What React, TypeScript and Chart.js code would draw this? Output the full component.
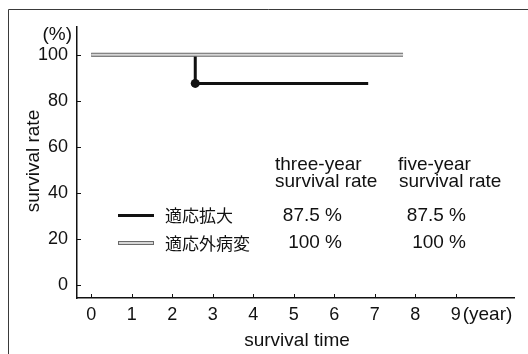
import React, { useEffect, useRef } from "react";
import { Chart, registerables } from "chart.js";

Chart.register(...registerables);

// ---- data ----
const expandedTimes = [0, 2.57, 2.57, 6.84];
const expandedRates = [100, 100, 87.5, 87.5];
const outsideTimes = [0, 7.7];
const outsideRates = [100, 100];
const xTickValues = [0, 1, 2, 3, 4, 5, 6, 7, 8, 9];
const yTickValues = [0, 20, 40, 60, 80, 100];
const seriesNames = ["適応拡大", "適応外病変"];
const columnHeaders = [
  ["three-year", "survival rate"],
  ["five-year", "survival rate"],
];
const threeYearRates = ["87.5 %", "100 %"];
const fiveYearRates = ["87.5 %", "100 %"];

const FONT = "'Liberation Sans', Arial, Helvetica, sans-serif";
const CJK = "'Noto Sans CJK JP', 'Liberation Sans', sans-serif";
const INK = "#111111";
const GRAY_EDGE = "#6a6a6a";
const GRAY_FILL = "#d6d6d6";

const overlayPlugin = {
  id: "overlay",
  beforeDraw(chart: any) {
    const ctx = chart.ctx;
    ctx.save();
    ctx.strokeStyle = "#3a3a3a";
    ctx.lineWidth = 1;
    ctx.beginPath();
    ctx.moveTo(8.5, 354);
    ctx.lineTo(8.5, 9.5);
    ctx.lineTo(528, 9.5);
    ctx.stroke();
    ctx.restore();
  },
  afterDraw(chart: any) {
    const ctx = chart.ctx;
    const xs = chart.scales.x;
    const ys = chart.scales.y;
    const area = chart.chartArea;
    ctx.save();
    // inward tick marks
    ctx.strokeStyle = INK;
    ctx.lineWidth = 1;
    xTickValues.forEach((v) => {
      const px = Math.round(xs.getPixelForValue(v)) + 0.5;
      ctx.beginPath();
      ctx.moveTo(px, area.bottom);
      ctx.lineTo(px, area.bottom - 4);
      ctx.stroke();
    });
    yTickValues.forEach((v) => {
      const py = Math.round(ys.getPixelForValue(v)) + 0.5;
      ctx.beginPath();
      ctx.moveTo(area.left, py);
      ctx.lineTo(area.left + 4, py);
      ctx.stroke();
    });

    ctx.fillStyle = INK;
    ctx.textBaseline = "alphabetic";
    ctx.font = `19px ${FONT}`;
    // units
    ctx.textAlign = "right";
    ctx.fillText("(%)", 72, 40);
    ctx.textAlign = "left";
    ctx.fillText("(year)", xs.getPixelForValue(9) + 7, 320);
    // axis titles
    ctx.textAlign = "center";
    ctx.fillText("survival time", 297, 346);
    ctx.save();
    ctx.translate(39, 161);
    ctx.rotate(-Math.PI / 2);
    ctx.fillText("survival rate", 0, 0);
    ctx.restore();

    // column headers
    ctx.textAlign = "left";
    ctx.fillText(columnHeaders[0][0], 275, 170);
    ctx.fillText(columnHeaders[0][1], 275, 187);
    ctx.fillText(columnHeaders[1][0], 398, 170);
    ctx.fillText(columnHeaders[1][1], 399, 187);

    // values
    ctx.textAlign = "right";
    ctx.fillText(threeYearRates[0], 342, 221);
    ctx.fillText(threeYearRates[1], 342, 248);
    ctx.fillText(fiveYearRates[0], 466, 221);
    ctx.fillText(fiveYearRates[1], 466, 248);

    // legend
    ctx.strokeStyle = INK;
    ctx.lineWidth = 3;
    ctx.beginPath();
    ctx.moveTo(118, 215.5);
    ctx.lineTo(154, 215.5);
    ctx.stroke();
    ctx.strokeStyle = GRAY_EDGE;
    ctx.lineWidth = 4;
    ctx.beginPath();
    ctx.moveTo(118, 243);
    ctx.lineTo(154, 243);
    ctx.stroke();
    ctx.strokeStyle = GRAY_FILL;
    ctx.lineWidth = 2;
    ctx.beginPath();
    ctx.moveTo(119, 243);
    ctx.lineTo(153, 243);
    ctx.stroke();
    ctx.font = `17px ${CJK}`;
    ctx.textAlign = "left";
    ctx.textBaseline = "middle";
    ctx.fillText(seriesNames[0], 165, 216);
    ctx.fillText(seriesNames[1], 165, 244);
    ctx.restore();
  },
};

export default function App() {
  const ref = useRef<HTMLCanvasElement>(null);
  useEffect(() => {
    if (!ref.current) return;
    const expanded = expandedTimes.map((x, i) => ({ x, y: expandedRates[i] }));
    const outside = outsideTimes.map((x, i) => ({ x, y: outsideRates[i] }));
    const chart = new Chart(ref.current, {
      type: "line",
      data: {
        datasets: [
          {
            label: seriesNames[0],
            data: expanded,
            borderColor: INK,
            backgroundColor: INK,
            borderWidth: 3,
            pointRadius: (c: any) => (c.dataIndex === 2 ? 4.5 : 0),
            pointBorderWidth: 0,
            tension: 0,
            order: 3,
          },
          {
            label: seriesNames[1] + " outline",
            data: outside,
            borderColor: GRAY_EDGE,
            borderWidth: 4,
            pointRadius: 0,
            tension: 0,
            order: 2,
          },
          {
            label: seriesNames[1],
            data: outside,
            borderColor: GRAY_FILL,
            borderWidth: 2,
            pointRadius: 0,
            tension: 0,
            order: 1,
          },
        ],
      },
      options: {
        animation: false,
        responsive: false,
        layout: { padding: { left: 0, top: 27, right: 14, bottom: 0 } },
        plugins: { legend: { display: false }, tooltip: { enabled: false } },
        scales: {
          x: {
            type: "linear",
            min: -0.35,
            max: 10.44,
            afterFit: (s: any) => {
              s.height = 56;
            },
            afterBuildTicks: (s: any) => {
              s.ticks = xTickValues.map((v) => ({ value: v }));
            },
            grid: { display: false, drawTicks: false },
            border: { display: true, color: INK, width: 1.5 },
            ticks: {
              padding: 6,
              color: INK,
              font: { family: FONT, size: 18 },
              maxRotation: 0,
              autoSkip: false,
            },
          },
          y: {
            type: "linear",
            min: -5.7,
            max: 112,
            afterFit: (s: any) => {
              s.width = 77;
            },
            afterBuildTicks: (s: any) => {
              s.ticks = yTickValues.map((v) => ({ value: v }));
            },
            grid: { display: false, drawTicks: false },
            border: { display: true, color: INK, width: 1.5 },
            ticks: {
              padding: 9,
              color: INK,
              font: { family: FONT, size: 18 },
              autoSkip: false,
            },
          },
        },
      },
      plugins: [overlayPlugin],
    } as any);
    return () => chart.destroy();
  }, []);
  return (
    <div style={{ position: "fixed", left: 0, top: 0, width: 528, height: 354, background: "#fff" }}>
      <canvas ref={ref} width={528} height={354} style={{ display: "block" }} />
    </div>
  );
}
